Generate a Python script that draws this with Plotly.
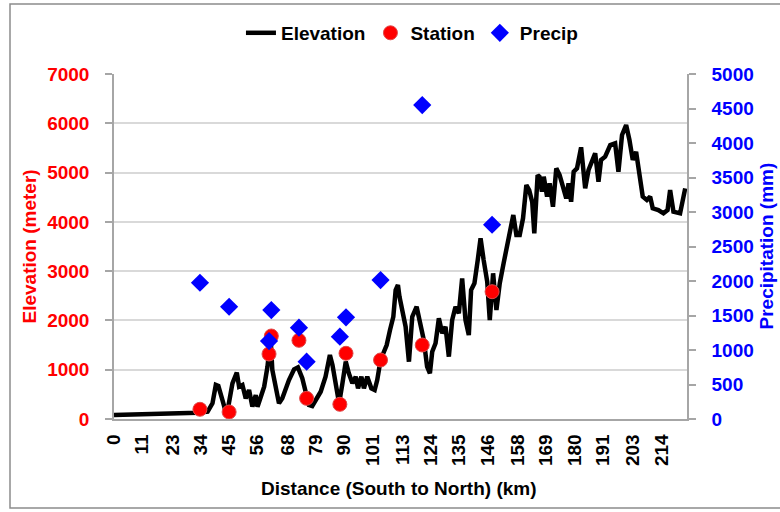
import plotly.graph_objects as go

# Elevation profile along the transect (km, m)
dist_km = [0, 5, 10, 15, 20, 25, 30, 32.7, 36.6, 38.5, 39.8, 40.8, 42.4, 43.3, 44.5,
           46.3, 48.0, 48.9, 50.2, 51.5, 52.8, 54.1, 55.4, 56.1, 57.4, 58.7, 60.0,
           61.2, 61.9, 63.2, 64.5, 65.8, 67.1, 68.4, 70.4, 71.9, 73.6, 74.9, 76.2,
           77.5, 78.8, 80.8, 82.7, 84.4, 85.4, 86.7, 88.0, 89.3, 90.6, 91.8, 93.2,
           94.5, 95.4, 96.7, 97.7, 99.0, 100.6, 101.9, 102.9, 104.2, 105.3, 106.6,
           107.9, 109.2, 110.1, 111.0, 111.6, 112.7, 114.0, 115.3, 116.6, 118.3,
           119.6, 121.1, 122.4, 123.5, 124.4, 125.7, 127.0, 128.3, 129.6, 130.9,
           132.2, 133.5, 134.8, 136.1, 137.4, 138.7, 139.6, 140.9, 142.2, 143.3,
           144.5, 145.9, 146.9, 148.2, 149.5, 150.8, 152.3, 153.9, 155.0, 156.1,
           157.3, 158.6, 159.9, 161.2, 162.3, 163.5, 164.3, 165.6, 166.3, 167.3,
           168.0, 169.3, 170.3, 171.6, 172.9, 174.2, 175.5, 176.8, 177.7, 178.7,
           179.7, 181.0, 182.6, 184.2, 185.5, 186.8, 188.1, 189.4, 190.4, 192.0,
           194.0, 195.9, 197.2, 198.6, 200.2, 201.5, 202.8, 204.1, 205.4, 206.7,
           208.3, 209.6, 210.6, 212.8, 214.8, 216.4, 217.4, 218.7, 221.3, 223.3]
elev_m = [80, 85, 88, 92, 95, 100, 110, 128, 148, 318, 690, 669, 385, 217, 200,
          724, 940, 656, 690, 419, 588, 250, 487, 250, 452, 656, 1062,
          1650, 994, 588, 318, 419, 622, 791, 1008, 1049, 826, 521, 284,
          264, 385, 554, 858, 1298, 1096, 724, 318, 724, 1163, 927, 724,
          858, 622, 858, 622, 858, 622, 588, 791, 1197, 1366, 1501,
          1806, 2076, 2617, 2719, 2482, 2211, 1873, 1163, 2076, 2279,
          2008, 1603, 1062, 927, 1366, 1536, 2042, 1738, 1873, 1265,
          2008, 2279, 2144, 2854, 2008, 1704, 2617, 2753, 3226, 3666,
          3226, 2786, 2008, 2956, 2211, 2753, 3159, 3565, 3903, 4139,
          3733, 3733, 4072, 4747, 4646, 4400, 3767, 4950, 4916, 4612,
          4916, 4511, 4782, 4307, 5086, 4950, 4714, 4477, 4782, 4409,
          5018, 5086, 5512, 4680, 5052, 5221, 5390, 4815, 5255, 5322,
          5559, 5593, 5018, 5762, 5965, 5660, 5255, 5423, 4916, 4511,
          4443, 4511, 4275, 4240, 4173, 4240, 4646, 4206, 4173, 4680]

# Weather stations: position, elevation and annual precipitation
station_km = [33.6, 45.0, 60.6, 61.5, 72.3, 75.3, 88.3, 90.7, 104.2, 120.5, 147.8]
station_elev = [197, 142, 1319, 1684, 1596, 419, 298, 1333, 1197, 1501, 2583]
station_precip = [1975, 1627, 1130, 1579, 1323, 831, 1193, 1473, 2014, 4550, 2815]

# Category-style distance labels along the bottom axis
x_ticks = [0, 11, 23, 34, 45, 56, 68, 79, 90, 101, 113, 124, 135, 146, 158,
           169, 180, 191, 203, 214]
elev_ticks = [0, 1000, 2000, 3000, 4000, 5000, 6000, 7000]
precip_ticks = [0, 500, 1000, 1500, 2000, 2500, 3000, 3500, 4000, 4500, 5000]

FONT = "Liberation Sans, Arial, sans-serif"
AXIS_GREY = "#a6a6a6"
GRID_GREY = "#d9d9d9"

fig = go.Figure()

fig.add_trace(go.Scatter(
    x=dist_km, y=elev_m, name="Elevation", mode="lines",
    line=dict(color="black", width=4.5),
))
fig.add_trace(go.Scatter(
    x=station_km, y=station_elev, name="Station", mode="markers",
    marker=dict(symbol="circle", size=14, color="#ff0000",
                line=dict(color="#e04848", width=1)),
))
fig.add_trace(go.Scatter(
    x=station_km, y=station_precip, name="Precip", mode="markers", yaxis="y2",
    marker=dict(symbol="diamond", size=14, color="#0000ff", line=dict(width=0)),
))

fig.update_layout(
    width=780, height=512,
    margin=dict(l=114, r=93, t=74, b=93),
    paper_bgcolor="white", plot_bgcolor="white",
    font=dict(family=FONT, size=19, color="black", weight="bold"),
    showlegend=True,
    legend=dict(orientation="h", x=0.52, xanchor="center", y=1.119,
                yanchor="middle", font=dict(family=FONT, size=19, weight="bold"),
                bgcolor="rgba(0,0,0,0)", itemwidth=30, traceorder="normal"),
    xaxis=dict(
        range=[0, 224], tickmode="array", tickvals=x_ticks,
        ticktext=[str(v) for v in x_ticks], tickangle=-90,
        showgrid=False, zeroline=False, showline=True, linecolor=AXIS_GREY,
        linewidth=1.5, ticks="", ticklabelstandoff=6,
        tickfont=dict(family=FONT, size=19, color="black", weight="bold"),
    ),
    yaxis=dict(
        range=[0, 7000], tickmode="array", tickvals=elev_ticks,
        showgrid=True, gridcolor=GRID_GREY, gridwidth=1.5, zeroline=False,
        showline=True, linecolor=AXIS_GREY, linewidth=1.5,
        ticks="outside", ticklen=7, tickcolor=AXIS_GREY, tickwidth=1.5,
        ticklabelstandoff=12,
        tickfont=dict(family=FONT, size=19, color="#ff0000", weight="bold"),
    ),
    yaxis2=dict(
        range=[0, 5000], tickmode="array", tickvals=precip_ticks,
        overlaying="y", side="right", showgrid=False, zeroline=False,
        showline=True, linecolor=AXIS_GREY, linewidth=1.5,
        ticks="outside", ticklen=7, tickcolor=AXIS_GREY, tickwidth=1.5,
        ticklabelstandoff=12,
        tickfont=dict(family=FONT, size=19, color="#0000ff", weight="bold"),
    ),
)

# Axis titles
fig.add_annotation(text="Distance (South to North) (km)", xref="paper", yref="paper",
                   x=0.497, y=-0.2, xanchor="center", yanchor="middle", showarrow=False,
                   font=dict(family=FONT, size=19, color="black", weight="bold"))
fig.add_annotation(text="Elevation (meter)", xref="paper", yref="paper",
                   x=-0.1466, y=0.5, xanchor="center", yanchor="middle", showarrow=False,
                   textangle=-90,
                   font=dict(family=FONT, size=19, color="#ff0000", weight="bold"))
fig.add_annotation(text="Precipitation (mm)", xref="paper", yref="paper",
                   x=(766 - 114) / 573, y=0.5, xanchor="center", yanchor="middle",
                   showarrow=False, textangle=-90,
                   font=dict(family=FONT, size=19, color="#0000ff", weight="bold"))

# Chart frame
fig.add_shape(type="rect", xref="paper", yref="paper",
              x0=(10 - 114) / 573, x1=(800 - 114) / 573,
              y0=(419 - 508) / 345, y1=(419 - 4) / 345,
              line=dict(color="#8c8c8c", width=1.5), fillcolor="rgba(0,0,0,0)",
              layer="below")

fig.write_html("out.html")
